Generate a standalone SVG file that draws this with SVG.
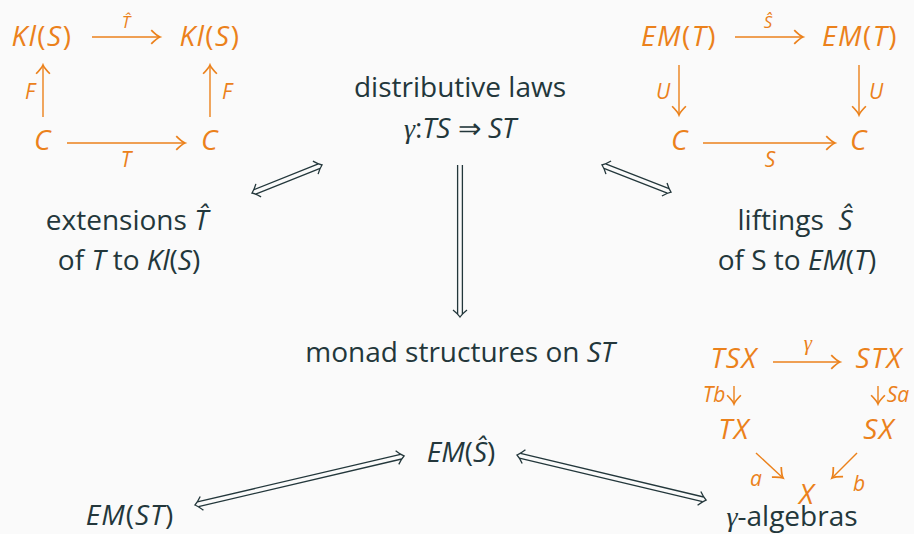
<svg xmlns="http://www.w3.org/2000/svg" width="914" height="534" viewBox="0 0 914 534">
<defs>
<style>
.bg{fill:#fafafa}
.t{font-family:"Open Sans","Noto Sans",sans-serif;fill:#23373b;font-size:28px;text-anchor:middle}
.o{font-family:"Open Sans","Noto Sans",sans-serif;fill:#eb811b;font-size:28px;text-anchor:middle;font-style:italic;letter-spacing:1.5px}
.l{font-family:"Open Sans","Noto Sans",sans-serif;fill:#eb811b;font-size:21px;text-anchor:middle;font-style:italic}
.u{font-style:normal}
.i{font-style:italic}
.g{font-family:"Liberation Serif","DejaVu Serif",serif;font-style:italic}
.oa{stroke:#eb811b;stroke-width:1.4;fill:none;marker-end:url(#ah)}
.d{stroke:#23373b;stroke-width:1.3;fill:none}
</style>
<marker id="ah" markerUnits="userSpaceOnUse" orient="auto" markerWidth="20" markerHeight="20" refX="0" refY="0" viewBox="-10 -8 12 16" overflow="visible">
<path d="M-7,-5.5 Q-2.5,-1 0,0 Q-2.5,1 -7,5.5" stroke="#eb811b" stroke-width="1.4" fill="none"/>
</marker>
</defs>
<rect class="bg" x="0" y="0" width="914" height="534"/>

<g id="kl-square">
<text class="o" x="42" y="46">Kl<tspan class="u">(</tspan>S<tspan class="u">)</tspan></text>
<text class="o" x="210" y="46">Kl<tspan class="u">(</tspan>S<tspan class="u">)</tspan></text>
<text class="o" x="43" y="150">C</text>
<text class="o" x="210" y="150">C</text>
<text class="l" x="126" y="28" style="font-size:17px">T&#x302;</text>
<text class="l" x="126" y="167">T</text>
<text class="l" x="30" y="99">F</text>
<text class="l" x="227" y="99">F</text>
</g>

<g id="em-square">
<text class="o" x="679" y="46">EM<tspan class="u">(</tspan>T<tspan class="u">)</tspan></text>
<text class="o" x="860" y="46">EM<tspan class="u">(</tspan>T<tspan class="u">)</tspan></text>
<text class="o" x="680" y="150">C</text>
<text class="o" x="859" y="150">C</text>
<text class="l" x="768" y="28" style="font-size:17px">S&#x302;</text>
<text class="l" x="770" y="167">S</text>
<text class="l" x="663" y="99">U</text>
<text class="l" x="876" y="99">U</text>
</g>

<g id="distributive-laws">
<text class="t" x="460" y="97">distributive laws</text>
<text class="t" x="460" y="138"><tspan class="g">γ</tspan>:<tspan class="i">TS</tspan> ⇒ <tspan class="i">ST</tspan></text>
</g>

<g id="extensions">
<text class="t" x="127" y="230">extensions <tspan class="i">T&#x302;</tspan></text>
<text class="t" x="129" y="270">of <tspan class="i">T</tspan> to <tspan class="i">Kl</tspan>(<tspan class="i">S</tspan>)</text>
</g>

<g id="liftings">
<text class="t" x="795" y="230">liftings&#160; <tspan class="i">S&#x302;</tspan></text>
<text class="t" x="797" y="270">of S to <tspan class="i">EM</tspan>(<tspan class="i">T</tspan>)</text>
</g>

<g id="monad-structures">
<text class="t" x="460" y="362">monad structures on <tspan class="i">ST</tspan></text>
</g>

<g id="em-shat">
<text class="t" x="461" y="462"><tspan class="i">EM</tspan>(<tspan class="i">S&#x302;</tspan>)</text>
</g>

<g id="em-st">
<text class="t" x="130" y="525" style="letter-spacing:1px"><tspan class="i">EM</tspan>(<tspan class="i">ST</tspan>)</text>
</g>

<g id="gamma-algebras">
<text class="o" x="734" y="368">TSX</text>
<text class="o" x="879" y="368">STX</text>
<text class="o" x="734" y="439">TX</text>
<text class="o" x="879" y="439">SX</text>
<text class="o" x="807" y="504">X</text>
<text class="l g" x="808" y="350">γ</text>
<text class="l" x="714" y="402">Tb</text>
<text class="l" x="898" y="402">Sa</text>
<text class="l" x="756" y="486">a</text>
<text class="l" x="859" y="491">b</text>
<text class="t" x="792" y="526"><tspan class="g">γ</tspan>-algebras</text>
</g>

<g id="connectors">
<line class="oa" x1="92" y1="37" x2="160" y2="37"/>
<line class="oa" x1="67" y1="143" x2="185" y2="143"/>
<line class="oa" x1="43" y1="117" x2="43" y2="65"/>
<line class="oa" x1="210" y1="117" x2="210" y2="65"/>
<line class="oa" x1="735" y1="37" x2="803" y2="37"/>
<line class="oa" x1="703" y1="143" x2="835" y2="143"/>
<line class="oa" x1="679" y1="65" x2="679" y2="115"/>
<line class="oa" x1="859" y1="65" x2="859" y2="115"/>
<line class="oa" x1="773" y1="362" x2="840" y2="362"/>
<line class="oa" x1="734" y1="386" x2="734" y2="404"/>
<line class="oa" x1="878" y1="386" x2="878" y2="404"/>
<line class="oa" x1="756" y1="453" x2="783" y2="478"/>
<line class="oa" x1="857" y1="453" x2="832" y2="478"/>

<g transform="translate(252,193) rotate(-21.8)">
<path class="d" d="M3,-2.4 H72.4 M3,2.4 H72.4"/>
<path class="d" d="M7,-7 Q3,-2 0,0 Q3,2 7,7"/>
<path class="d" d="M68.4,-7 Q72.4,-2 75.4,0 Q72.4,2 68.4,7"/>
</g>
<g transform="translate(602,165) rotate(21.4)">
<path class="d" d="M3,-2.4 H71.1 M3,2.4 H71.1"/>
<path class="d" d="M7,-7 Q3,-2 0,0 Q3,2 7,7"/>
<path class="d" d="M67.1,-7 Q71.1,-2 74.1,0 Q71.1,2 67.1,7"/>
</g>
<g transform="translate(460,165) rotate(90)">
<path class="d" d="M0,-2.4 H149 M0,2.4 H149"/>
<path class="d" d="M145,-7 Q149,-2 152,0 Q149,2 145,7"/>
</g>
<g transform="translate(195,505) rotate(-13.2)">
<path class="d" d="M3,-2.4 H211.7 M3,2.4 H211.7"/>
<path class="d" d="M7,-7 Q3,-2 0,0 Q3,2 7,7"/>
<path class="d" d="M207.7,-7 Q211.7,-2 214.7,0 Q211.7,2 207.7,7"/>
</g>
<g transform="translate(517,455) rotate(13.4)">
<path class="d" d="M3,-2.4 H191.3 M3,2.4 H191.3"/>
<path class="d" d="M7,-7 Q3,-2 0,0 Q3,2 7,7"/>
<path class="d" d="M187.3,-7 Q191.3,-2 194.3,0 Q191.3,2 187.3,7"/>
</g>
</g>
</svg>
